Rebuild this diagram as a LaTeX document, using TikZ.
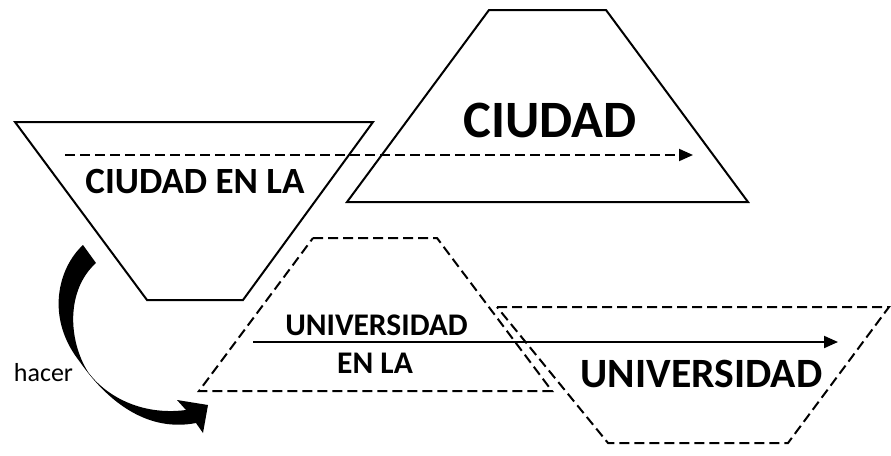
\documentclass[tikz,border=0pt]{standalone}
\usepackage{fontspec}
\setmainfont{Carlito}
\usetikzlibrary{arrows.meta}
\tikzset{
  solidshape/.style={draw=black,line width=2pt,line join=miter},
  dashshape/.style={draw=black,line width=2pt,dash pattern=on 10pt off 5pt},
  lbl/.style={inner sep=0pt,anchor=base,text=black},
  dasharrow/.style={draw=black,line width=2pt,dash pattern=on 10pt off 5pt,-{Triangle[length=14pt,width=12pt]}},
  solidarrow/.style={draw=black,line width=2pt,-{Triangle[length=14pt,width=12pt]}},
}
\begin{document}
\begin{tikzpicture}[x=1pt,y=-1pt]
\useasboundingbox (0,0) rectangle (891,455);
% trapezoid corners
\coordinate (a1) at (15,122);  \coordinate (a2) at (373,122);
\coordinate (a3) at (243,300); \coordinate (a4) at (147,300);
\coordinate (b1) at (489,10);  \coordinate (b2) at (606,10);
\coordinate (b3) at (748,202); \coordinate (b4) at (347,202);
\coordinate (c1) at (313,238); \coordinate (c2) at (437,238);
\coordinate (c3) at (552,391); \coordinate (c4) at (199,391);
\coordinate (d1) at (497,307); \coordinate (d2) at (889,307);
\coordinate (d3) at (788,443); \coordinate (d4) at (608,443);
\draw[solidshape] (a1) -- (a2) -- (a3) -- (a4) -- cycle;
\draw[solidshape] (b1) -- (b2) -- (b3) -- (b4) -- cycle;
\draw[dashshape] (c1) -- (c2) -- (c3) -- (c4) -- cycle;
\draw[dashshape] (d1) -- (d2) -- (d3) -- (d4) -- cycle;
% labels
\node[lbl,font=\fontsize{52.5}{60}\selectfont\bfseries] (ciudad) at (550,137) {CIUDAD};
\node[lbl,font=\fontsize{37}{42}\selectfont\bfseries] (ciudadenla) at (195,193) {CIUDAD EN LA};
\node[lbl,font=\fontsize{31.5}{36}\selectfont\bfseries] (univ1) at (376.5,335) {UNIVERSIDAD};
\node[lbl,font=\fontsize{31.5}{36}\selectfont\bfseries] (enla) at (375,373) {EN LA};
\node[lbl,font=\fontsize{41.7}{48}\selectfont\bfseries] (univ2) at (701.5,387) {UNIVERSIDAD};
\node[lbl,font=\fontsize{26}{30}\selectfont] (hacer) at (43.5,381) {hacer};
% connectors
\coordinate (p1) at (65,155); \coordinate (p2) at (693,155);
\draw[dasharrow] (p1) -- (p2);
\coordinate (q1) at (253,342); \coordinate (q2) at (838,342);
\draw[solidarrow] (q1) -- (q2);
% curved block arrow
\fill[black] (83,245)
  .. controls (58,268) and (45,318) .. (80,362)
  .. controls (110,405) and (150,432) .. (196,423)
  -- (203,433) -- (208,405) -- (177,400) -- (186,410)
  .. controls (140,416) and (105,395) .. (88,372)
  .. controls (68,340) and (66,290) .. (96,263)
  -- cycle;
\end{tikzpicture}
\end{document}
